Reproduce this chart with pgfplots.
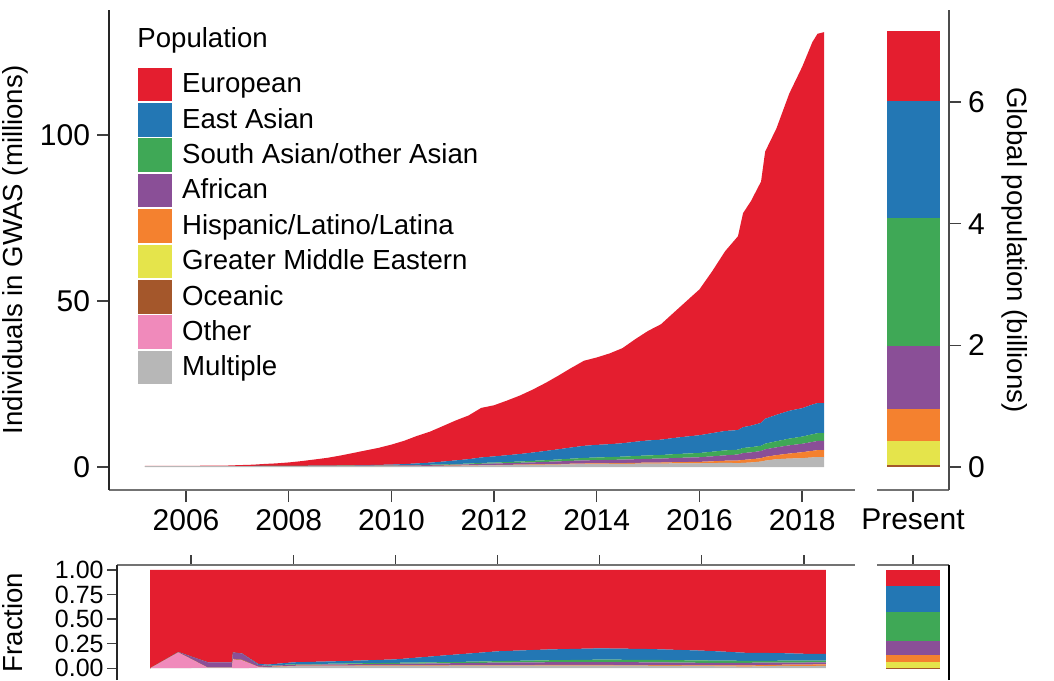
\documentclass[border=0pt]{standalone}
\usepackage{pgfplots}
\usepackage{pgfplotstable}
\usepackage{fontspec}
\setmainfont{Liberation Sans}
\pgfplotsset{compat=1.18}

\definecolor{cEur}{HTML}{E41E2F}
\definecolor{cEas}{HTML}{2377B4}
\definecolor{cSas}{HTML}{3FA856}
\definecolor{cAfr}{HTML}{8A4F97}
\definecolor{cHis}{HTML}{F4812F}
\definecolor{cGme}{HTML}{E5E44B}
\definecolor{cOce}{HTML}{A4572B}
\definecolor{cOth}{HTML}{F08ABB}
\definecolor{cMul}{HTML}{B7B7B7}

% individuals in GWAS (millions), one column per population, stacked bottom-up
\pgfplotstableread{
year    mul  oth oce gme his   afr   sas   eas   eur
2005.20 0.30 0 0 0 0     0     0     0     0.02
2005.75 0.30 0 0 0 0     0     0     0     0.05
2006.33 0.30 0 0 0 0     0     0     0     0.08
2006.82 0.30 0 0 0 0     0     0     0     0.15
2007.00 0.30 0 0 0 0     0     0     0     0.25
2007.31 0.30 0 0 0 0     0     0     0     0.40
2007.50 0.30 0 0 0 0.002 0.006 0.001 0.007 0.58
2007.75 0.30 0 0 0 0.003 0.008 0.002 0.012 0.76
2008.00 0.30 0 0 0 0.006 0.011 0.006 0.022 1.03
2008.25 0.30 0 0 0 0.008 0.017 0.008 0.032 1.41
2008.50 0.30 0 0 0 0.010 0.024 0.012 0.044 1.87
2008.75 0.30 0 0 0 0.013 0.031 0.018 0.059 2.33
2009.00 0.30 0 0 0 0.016 0.042 0.026 0.080 2.97
2009.25 0.30 0 0 0 0.020 0.054 0.034 0.110 3.69
2009.50 0.30 0 0 0 0.024 0.067 0.043 0.144 4.41
2009.75 0.30 0 0 0 0.028 0.081 0.053 0.182 5.12
2010.00 0.30 0 0 0 0.033 0.099 0.066 0.231 6.01
2010.25 0.30 0 0 0 0.039 0.129 0.082 0.332 7.02
2010.50 0.30 0 0 0 0.047 0.167 0.102 0.465 8.29
2010.75 0.30 0 0 0 0.053 0.201 0.122 0.636 9.32
2011.00 0.31 0 0 0 0.062 0.246 0.148 0.861 10.68
2011.25 0.36 0 0 0 0.070 0.294 0.182 1.085 12.01
2011.50 0.40 0 0 0 0.078 0.341 0.217 1.318 13.14
2011.75 0.47 0 0 0 0.089 0.418 0.258 1.647 14.92
2012.00 0.50 0 0 0 0.093 0.465 0.279 1.860 15.40
2012.25 0.54 0 0 0 0.110 0.510 0.330 2.050 16.46
2012.50 0.58 0 0 0 0.129 0.559 0.387 2.258 17.59
2012.75 0.63 0 0 0 0.140 0.629 0.443 2.505 18.95
2013.00 0.68 0 0 0 0.152 0.708 0.506 2.783 20.47
2013.25 0.74 0 0 0 0.165 0.784 0.578 3.066 22.16
2013.50 0.81 0 0 0 0.179 0.864 0.656 3.367 23.93
2013.75 0.86 0 0 0 0.192 0.944 0.736 3.648 25.62
2014.00 0.89 0 0 0 0.198 0.990 0.792 3.795 26.33
2014.25 0.91 0 0 0 0.222 1.009 0.838 3.899 27.33
2014.50 0.93 0 0 0 0.251 1.038 0.895 4.045 28.64
2014.75 0.98 0 0 0 0.270 1.097 0.963 4.293 30.90
2015.00 1.03 0 0 0 0.287 1.148 1.025 4.510 33.00
2015.25 1.03 0 0 0 0.323 1.183 1.075 4.623 34.76
2015.50 1.07 0 0 0 0.372 1.256 1.163 4.883 37.76
2015.75 1.10 0 0 0 0.400 1.325 1.225 5.125 40.83
2016.00 1.12 0 0 0 0.428 1.391 1.284 5.350 43.92
2016.25 1.18 0 0 0 0.531 1.505 1.387 5.605 48.79
2016.50 1.24 0 0 0 0.650 1.625 1.495 5.850 54.14
2016.75 1.18 0 0 0 0.765 1.807 1.460 5.908 58.38
2016.85 1.22 0 0 0 0.918 2.066 1.530 6.273 64.49
2017.00 1.36 0 0 0 0.960 2.080 1.560 6.480 67.56
2017.20 1.63 0 0 0 1.032 2.150 1.591 6.880 72.71
2017.28 1.90 0 0 0 1.140 2.280 1.710 7.505 80.47
2017.50 2.35 0 0 0 1.224 2.346 1.836 7.956 86.29
2017.75 2.53 0 0 0 1.519 2.475 2.025 8.381 95.57
2018.00 2.65 0 0 0 1.808 2.531 2.169 8.556 102.79
2018.20 2.88 0 0 0 1.984 2.688 2.304 8.960 109.18
2018.30 3.00 0 0 0 2.088 2.741 2.349 9.070 111.25
2018.43 3.01 0 0 0 2.096 2.751 2.358 9.039 111.74
}\maindata

% fraction of individuals per population
\pgfplotstableread{
year    mul   oth  oce   gme his   afr   sas   eas   eur
2005.20 0     0    0     0   0     0     0     0     1
2005.75 0     0.16 0     0   0     0.005 0     0     0.835
2006.33 0.005 0    0     0   0     0.055 0     0     0.94
2006.80 0.005 0    0     0   0     0.055 0     0     0.94
2006.82 0     0.09 0.005 0   0     0.065 0     0     0.84
2007.00 0     0.08 0.005 0   0     0.065 0     0     0.85
2007.31 0.005 0.01 0     0   0     0.02  0     0.01  0.955
2007.50 0.01  0    0     0   0.003 0.01  0.002 0.012 0.963
2008.00 0.02  0    0     0   0.005 0.01  0.005 0.02  0.94
2009.00 0.022 0    0     0   0.005 0.013 0.008 0.025 0.927
2010.00 0.025 0    0     0   0.005 0.015 0.01  0.035 0.91
2011.00 0.025 0    0     0   0.005 0.02  0.012 0.07  0.868
2012.00 0.027 0    0     0   0.005 0.025 0.015 0.10  0.828
2013.00 0.027 0    0     0   0.006 0.028 0.02  0.11  0.809
2014.00 0.027 0    0     0   0.006 0.03  0.024 0.115 0.798
2015.00 0.025 0    0     0   0.007 0.028 0.025 0.11  0.805
2016.00 0.021 0    0     0   0.008 0.026 0.024 0.10  0.821
2016.50 0.019 0    0     0   0.01  0.025 0.023 0.09  0.833
2016.85 0.016 0    0     0   0.012 0.027 0.02  0.082 0.843
2017.50 0.023 0    0     0   0.012 0.023 0.018 0.078 0.846
2018.00 0.022 0    0     0   0.015 0.021 0.018 0.071 0.853
2018.43 0.023 0    0     0   0.016 0.021 0.018 0.069 0.853
}\fracdata

\pgfplotsset{
  every axis/.append style={
    scale only axis,
    axis line style={-, line width=1pt},
    tick style={line width=0.7pt, black!75},
    tick align=outside,
    tick label style={font=\fontsize{15}{18}\selectfont},
    label style={font=\fontsize{13.8}{16}\selectfont},
    /pgf/number format/assume math mode=true,
    /pgf/number format/1000 sep={},
  },
}

\begin{document}
\begin{tikzpicture}
\path[use as bounding box] (0,0) rectangle (527pt,-340pt);

% main panel
\begin{axis}[
  at={(54.5pt,-245pt)}, anchor=south west,
  width=373pt, height=240pt,
  xmin=2004.5, xmax=2019.03, ymin=-6.93, ymax=137.65,
  axis x line*=bottom, axis y line*=left,
  x axis line style={black!55}, y axis line style={black!85},
  xtick={2006,2008,...,2018}, ytick={0,50,100},
  major tick length=6pt,
  ylabel={Individuals in GWAS (millions)},
  ylabel style={at={(axis description cs:-0.126,0.5)}, anchor=center},
  stack plots=y,
  reverse legend,
  legend style={at={(axis description cs:0.0375,0.883)}, anchor=north west,
    draw=none, fill=none, inner sep=0pt, row sep=0pt,
    nodes={inner sep=0pt},
    font=\fontsize{13.8}{16}\selectfont, cells={anchor=west},
    /tikz/every odd column/.append style={column sep=4.5pt}},
  legend image code/.code={\filldraw[#1, draw=white, line width=0.4pt] (0pt,-8.65pt) rectangle (17.5pt,8.65pt);},
]
\addplot[fill=cMul, draw=none] table[x=year, y=mul] {\maindata} \closedcycle;
\addlegendentry{Multiple}
\addplot[fill=cOth, draw=none] table[x=year, y=oth] {\maindata} \closedcycle;
\addlegendentry{Other}
\addplot[fill=cOce, draw=none] table[x=year, y=oce] {\maindata} \closedcycle;
\addlegendentry{Oceanic}
\addplot[fill=cGme, draw=none] table[x=year, y=gme] {\maindata} \closedcycle;
\addlegendentry{Greater Middle Eastern}
\addplot[fill=cHis, draw=none] table[x=year, y=his] {\maindata} \closedcycle;
\addlegendentry{Hispanic/Latino/Latina}
\addplot[fill=cAfr, draw=none] table[x=year, y=afr] {\maindata} \closedcycle;
\addlegendentry{African}
\addplot[fill=cSas, draw=none] table[x=year, y=sas] {\maindata} \closedcycle;
\addlegendentry{South Asian/other Asian}
\addplot[fill=cEas, draw=none] table[x=year, y=eas] {\maindata} \closedcycle;
\addlegendentry{East Asian}
\addplot[fill=cEur, draw=none] table[x=year, y=eur] {\maindata} \closedcycle;
\addlegendentry{European}
\end{axis}
\node[anchor=west, inner sep=0pt, font=\fontsize{13.8}{16}\selectfont] at (68.5pt,-20pt) {Population};

% present-day global population
\begin{axis}[
  at={(438.5pt,-245pt)}, anchor=south west,
  width=36pt, height=240pt,
  xmin=-0.5, xmax=0.5, ymin=-0.378, ymax=7.516,
  axis x line*=bottom, axis y line*=right,
  x axis line style={black!55}, y axis line style={black!70},
  xtick={0}, xticklabels={Present}, ytick={0,2,4,6},
  major tick length=6pt,
  ybar stacked, bar width=26.5pt,
  ylabel={Global population (billions)},
  ylabel style={at={(axis description cs:1.917,0.5)}, anchor=center, rotate=180},
]
\addplot[fill=cOce, draw=none] coordinates {(0,0.04)};
\addplot[fill=cGme, draw=none] coordinates {(0,0.39)};
\addplot[fill=cHis, draw=none] coordinates {(0,0.53)};
\addplot[fill=cAfr, draw=none] coordinates {(0,1.03)};
\addplot[fill=cSas, draw=none] coordinates {(0,2.10)};
\addplot[fill=cEas, draw=none] coordinates {(0,1.93)};
\addplot[fill=cEur, draw=none] coordinates {(0,1.15)};
\end{axis}

% fraction panel
\begin{axis}[
  at={(58.5pt,-282.5pt)}, anchor=north west,
  width=369pt, height=57.5pt,
  xmin=2004.55, xmax=2019.0, ymin=-0.12, ymax=1.05,
  axis x line*=top, axis y line*=left,
  x axis line style={black!55}, y axis line style={black!85},
  xtick={2006,2008,...,2018}, xticklabels={},
  ytick={0,0.25,0.5,0.75,1},
  yticklabel style={font=\fontsize{12.5}{12.5}\selectfont, inner sep=0pt, xshift=-1.5pt,
    /pgf/number format/fixed, /pgf/number format/fixed zerofill, /pgf/number format/precision=2},
  major tick length=5pt,
  ylabel={Fraction},
  ylabel style={at={(axis description cs:-0.142,0.5)}, anchor=center},
  stack plots=y,
]
\addplot[fill=cMul, draw=none] table[x=year, y=mul] {\fracdata} \closedcycle;
\addplot[fill=cOth, draw=none] table[x=year, y=oth] {\fracdata} \closedcycle;
\addplot[fill=cOce, draw=none] table[x=year, y=oce] {\fracdata} \closedcycle;
\addplot[fill=cGme, draw=none] table[x=year, y=gme] {\fracdata} \closedcycle;
\addplot[fill=cHis, draw=none] table[x=year, y=his] {\fracdata} \closedcycle;
\addplot[fill=cAfr, draw=none] table[x=year, y=afr] {\fracdata} \closedcycle;
\addplot[fill=cSas, draw=none] table[x=year, y=sas] {\fracdata} \closedcycle;
\addplot[fill=cEas, draw=none] table[x=year, y=eas] {\fracdata} \closedcycle;
\addplot[fill=cEur, draw=none] table[x=year, y=eur] {\fracdata} \closedcycle;
\end{axis}

% present-day fractions
\begin{axis}[
  at={(438.5pt,-282.5pt)}, anchor=north west,
  width=36pt, height=57.5pt,
  xmin=-0.5, xmax=0.5, ymin=-0.12, ymax=1.05,
  axis x line*=top, axis y line*=right,
  x axis line style={black!55}, y axis line style={black},
  xtick={0}, xticklabels={}, ytick=\empty,
  major tick length=5pt,
  ybar stacked, bar width=27pt,
]
\addplot[fill=cOce, draw=none] coordinates {(0,0.006)};
\addplot[fill=cGme, draw=none] coordinates {(0,0.054)};
\addplot[fill=cHis, draw=none] coordinates {(0,0.074)};
\addplot[fill=cAfr, draw=none] coordinates {(0,0.144)};
\addplot[fill=cSas, draw=none] coordinates {(0,0.293)};
\addplot[fill=cEas, draw=none] coordinates {(0,0.269)};
\addplot[fill=cEur, draw=none] coordinates {(0,0.160)};
\end{axis}
\end{tikzpicture}
\end{document}
